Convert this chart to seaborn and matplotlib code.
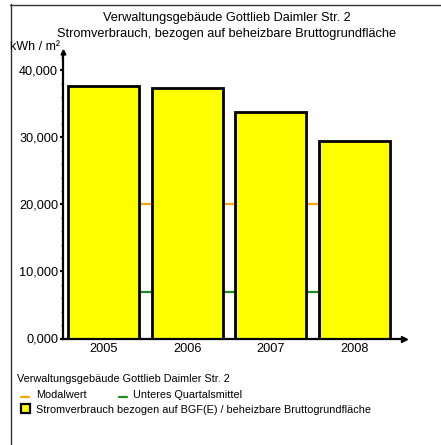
import matplotlib
matplotlib.use("Agg")
import matplotlib.pyplot as plt
from matplotlib.lines import Line2D
from matplotlib.patches import Rectangle
from matplotlib.ticker import FuncFormatter, MultipleLocator
import seaborn as sns
import pandas as pd

# Data
years = ["2005", "2006", "2007", "2008"]
strom_bgf = [37.7, 37.4, 33.8, 29.5]          # kWh/m² BGF(E)
modalwert = [20.0, 20.0, 20.0, 20.0]
unteres_quartalsmittel = [7.0, 7.0, 7.0, 7.0]
y_ticks = [0, 10, 20, 30, 40]

title = "Verwaltungsgebäude Gottlieb Daimler Str. 2"
subtitle = "Stromverbrauch, bezogen auf beheizbare Bruttogrundfläche"
unit_label = "kWh / m²"
legend_title = "Verwaltungsgebäude Gottlieb Daimler Str. 2"
legend_modal = "Modalwert"
legend_quart = "Unteres Quartalsmittel"
legend_bar = "Stromverbrauch bezogen auf BGF(E) / beheizbare Bruttogrundfläche"

sns.set_theme(style="white")
plt.rcParams["font.family"] = ["Liberation Sans", "DejaVu Sans"]

W, H = 441, 445
fig = plt.figure(figsize=(W / 100, H / 100), dpi=100)


def fx(x):
    return x / W


def fy(y):
    return 1 - y / H


# plot area in pixel coordinates
ax_left, ax_right, ax_top, ax_bottom = 62.5, 404, 52, 338.5
ax = fig.add_axes([fx(ax_left), fy(ax_bottom), fx(ax_right - ax_left), (ax_bottom - ax_top) / H])

df = pd.DataFrame({"Jahr": years, "Wert": strom_bgf})

# reference lines behind the bars
pos = list(range(len(years)))
ax.plot(pos, modalwert, color="#FFA500", lw=1.6, zorder=1, solid_capstyle="butt")
ax.plot(pos, unteres_quartalsmittel, color="#1E8C1E", lw=1.6, zorder=1, solid_capstyle="butt")

sns.barplot(data=df, x="Jahr", y="Wert", color="#FFFF00", saturation=1,
            edgecolor="black", linewidth=2.0, width=0.85, ax=ax, zorder=2)

ax.set_xlim(-0.49, 3.59)
ax.set_ylim(0, 42.76)
ax.set_xlabel("")
ax.set_ylabel("")

tick_fs = 9.2
ax.set_yticks(y_ticks)
ax.yaxis.set_major_formatter(FuncFormatter(lambda v, p: f"{v:.3f}".replace(".", ",")))
ax.yaxis.set_minor_locator(MultipleLocator(2))
ax.tick_params(axis="y", which="major", direction="out", length=2.5, width=1.5,
               color="black", labelsize=tick_fs, pad=0.6, left=True)
ax.tick_params(axis="y", which="minor", direction="out", length=1.2, width=0.8,
               color="#555555", left=True)
ax.tick_params(axis="x", which="both", length=0, labelsize=tick_fs, pad=3.3)
for lab in ax.get_yticklabels() + ax.get_xticklabels():
    lab.set_color("black")

for s in ["top", "right"]:
    ax.spines[s].set_visible(False)
for s in ["left", "bottom"]:
    ax.spines[s].set_color("black")
    ax.spines[s].set_linewidth(1.6)

# arrow heads at the axis ends
ax.plot([1], [0], marker=">", color="black", markersize=5, transform=ax.transAxes, clip_on=False)
ax.plot([0], [1], marker="^", color="black", markersize=3.5, transform=ax.transAxes, clip_on=False)

# titles
fig.text(fx(227), fy(17.5), title, ha="center", va="center", fontsize=9.2, color="black")
fig.text(fx(227), fy(33.5), subtitle, ha="center", va="center", fontsize=9.2, color="black")
fig.text(fx(60.5), fy(47.5), unit_label, ha="right", va="center", fontsize=9.0, color="black")

# legend
lfs = 7.8
fig.text(fx(17), fy(379), legend_title, ha="left", va="center", fontsize=lfs, color="black")
fig.add_artist(Line2D([fx(21), fx(29)], [fy(397), fy(397)], color="#FFA500", lw=1.6))
fig.text(fx(36), fy(395), legend_modal, ha="left", va="center", fontsize=lfs, color="black")
fig.add_artist(Line2D([fx(119), fx(127)], [fy(397), fy(397)], color="#1E8C1E", lw=1.6))
fig.text(fx(133), fy(395), legend_quart, ha="left", va="center", fontsize=lfs, color="black")
fig.add_artist(Rectangle((fx(20.5), fy(413)), fx(9), 9 / H, facecolor="#FFFF00",
                         edgecolor="black", lw=1.6))
fig.text(fx(36), fy(410), legend_bar, ha="left", va="center", fontsize=lfs, color="black")

# frame around the chart
fig.add_artist(Line2D([fx(10.5), fx(10.5)], [fy(4), 0], color="#333333", lw=1.0))
fig.add_artist(Line2D([fx(10), 1], [fy(4.5), fy(4.5)], color="#333333", lw=1.0))

fig.savefig("out.png", dpi=100)
